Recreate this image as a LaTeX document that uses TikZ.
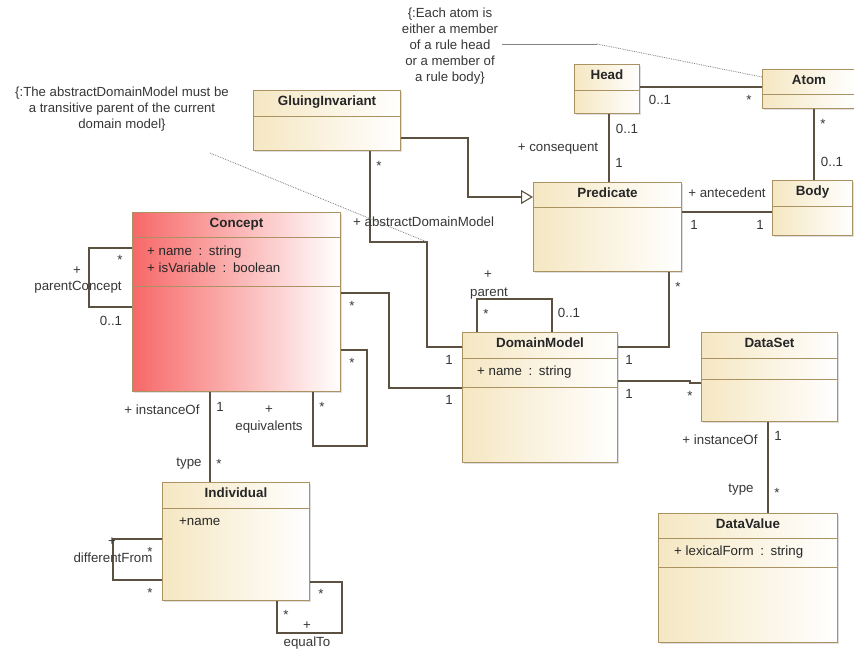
\documentclass[tikz,border=0pt]{standalone}
\usepackage{fontspec}
\setmainfont{Liberation Sans}
\usepackage{tikz}
\usetikzlibrary{positioning,arrows.meta,shadows}
\usepackage{xcolor}
\definecolor{clsfill}{RGB}{245,231,194}
\definecolor{clsred}{RGB}{247,104,104}
\definecolor{clsline}{RGB}{170,146,98}
\definecolor{assocline}{RGB}{92,80,64}
\definecolor{lblcol}{RGB}{55,55,55}
\definecolor{notecol}{RGB}{130,130,130}

\begin{document}
\begin{tikzpicture}[
    x = 1pt, y = -1pt,
    cls/.style={draw=clsline, line width=1pt, left color=clsfill, right color=white,
        anchor=north west, inner sep=0pt,
        drop shadow={shadow xshift=1.5pt, shadow yshift=-1.5pt, opacity=0.25}},
    ttl/.style={font=\fontsize{13.4}{15}\selectfont\bfseries, text=black!85, inner sep=0pt,
        text height=9.5pt, text depth=2.5pt},
    lbl/.style={font=\fontsize{13.3}{15}\selectfont, text=lblcol, inner sep=0pt,
        text height=9.5pt, text depth=2.5pt},
    mstar/.style={lbl, yshift=-3pt},
    attr/.style={lbl, anchor=west, text=black!85},
    note/.style={font=\fontsize{13.2}{15.8}\selectfont, text=lblcol, align=center, inner sep=0pt},
    assoc/.style={draw=assocline, line width=1.1pt},
    gen/.style={assoc, -{Triangle[open, length=12pt, width=14pt, fill=white]}},
    divline/.style={draw=clsline, line width=0.9pt},
    notelink/.style={draw=notecol, line width=0.8pt}
]
    \fill[white] (0,0) rectangle (854,648);
    \useasboundingbox (0,0) rectangle (854,648);

    % notes
    \node[note] (note1) at (122,109) {\{:The abstractDomainModel must be\\a transitive parent of the current\\domain model\}};
    \node[note] (note2) at (450,46) {\{:Each atom is\\either a member\\of a rule head\\or a member of\\a rule body\}};
    \coordinate (n1a) at (210,153);
    \coordinate (n2a) at (502,44);
    \coordinate (n2b) at (597,44);
    \coordinate (admBend) at (427,242);

    % classes
    \node[cls, minimum width=147pt, minimum height=60pt] (gi) at (253,90) {};
    \node[cls, left color=clsred, minimum width=208pt, minimum height=179pt] (con) at (132,212) {};
    \node[cls, minimum width=65pt, minimum height=49pt] (head) at (574,64) {};
    \node[cls, minimum width=93pt, minimum height=39pt] (atom) at (762,69) {};
    \node[cls, minimum width=148pt, minimum height=89pt] (pred) at (533,182) {};
    \node[cls, minimum width=80pt, minimum height=55pt] (body) at (772,180) {};
    \node[cls, minimum width=155pt, minimum height=130pt] (dm) at (462,332) {};
    \node[cls, minimum width=136pt, minimum height=89pt] (ds) at (701,332) {};
    \node[cls, minimum width=179pt, minimum height=129pt] (dv) at (658,513) {};
    \node[cls, minimum width=147pt, minimum height=118pt] (ind) at (162,482) {};

    \draw[divline] ([yshift=-26pt]gi.north west) -- ([yshift=-26pt]gi.north east);
    \draw[divline] ([yshift=-25pt]con.north west) -- ([yshift=-25pt]con.north east);
    \draw[divline] ([yshift=-74pt]con.north west) -- ([yshift=-74pt]con.north east);
    \draw[divline] ([yshift=-26pt]head.north west) -- ([yshift=-26pt]head.north east);
    \draw[divline] ([yshift=-25pt]atom.north west) -- ([yshift=-25pt]atom.north east);
    \draw[divline] ([yshift=-25pt]pred.north west) -- ([yshift=-25pt]pred.north east);
    \draw[divline] ([yshift=-26pt]body.north west) -- ([yshift=-26pt]body.north east);
    \draw[divline] ([yshift=-26pt]dm.north west) -- ([yshift=-26pt]dm.north east);
    \draw[divline] ([yshift=-55pt]dm.north west) -- ([yshift=-55pt]dm.north east);
    \draw[divline] ([yshift=-26pt]ds.north west) -- ([yshift=-26pt]ds.north east);
    \draw[divline] ([yshift=-47pt]ds.north west) -- ([yshift=-47pt]ds.north east);
    \draw[divline] ([yshift=-25pt]dv.north west) -- ([yshift=-25pt]dv.north east);
    \draw[divline] ([yshift=-54pt]dv.north west) -- ([yshift=-54pt]dv.north east);
    \draw[divline] ([yshift=-26pt]ind.north west) -- ([yshift=-26pt]ind.north east);

    \node[ttl] (giT) at ([yshift=-12pt]gi.north) {GluingInvariant};
    \node[ttl] (conT) at ([yshift=-12pt]con.north) {Concept};
    \node[ttl] (headT) at ([yshift=-12pt]head.north) {Head};
    \node[ttl] (atomT) at ([yshift=-12pt]atom.north) {Atom};
    \node[ttl] (predT) at ([yshift=-12pt]pred.north) {Predicate};
    \node[ttl] (bodyT) at ([yshift=-12pt]body.north) {Body};
    \node[ttl] (dmT) at ([yshift=-12pt]dm.north) {DomainModel};
    \node[ttl] (dsT) at ([yshift=-12pt]ds.north) {DataSet};
    \node[ttl] (dvT) at ([yshift=-12pt]dv.north) {DataValue};
    \node[ttl] (indT) at ([yshift=-12pt]ind.north) {Individual};

    \node[attr] (conA1) at (147,252) {+ name\hspace{0.5em}:\hspace{0.5em}string};
    \node[attr] (conA2) at (147,269) {+ isVariable\hspace{0.5em}:\hspace{0.5em}boolean};
    \node[attr] (dmA) at (477,372) {+ name\hspace{0.5em}:\hspace{0.5em}string};
    \node[attr] (dvA) at (674,552) {+ lexicalForm\hspace{0.5em}:\hspace{0.5em}string};
    \node[attr] (indA) at (179,522) {+name};

    % connectors
    \draw[gen] (gi.east |- 0,138) -| (468,197) -- (pred.west |- 0,197);
    \draw[assoc] (head.east |- 0,87) -- (atom.west |- 0,87);
    \draw[assoc] (head.south -| 609,0) -- (pred.north -| 609,0);
    \draw[assoc] (atom.south -| 814,0) -- (body.north -| 814,0);
    \draw[assoc] (pred.east |- 0,212) -- (body.west |- 0,212);
    \draw[assoc] (pred.south -| 669,0) |- (dm.east |- 0,347);
    \draw[assoc] (gi.south -| 370,0) |- (admBend) |- (dm.west |- 0,347);
    \draw[assoc] (con.east |- 0,293) -| (389,388) -- (dm.west |- 0,388);
    \draw[assoc] (con.east |- 0,350) -| (367,446) -| (con.south -| 313,0);
    \draw[assoc] (con.west |- 0,248) -| (89,307) -- (con.west |- 0,307);
    \draw[assoc] (con.south -| 210,0) -- (ind.north -| 210,0);
    \draw[assoc] (ind.west |- 0,539) -| (113,580) -- (ind.west |- 0,580);
    \draw[assoc] (ind.east |- 0,582) -| (342,633) -| (ind.south -| 277,0);
    \draw[assoc] (dm.north -| 477,0) |- (552,299) -- (dm.north -| 552,0);
    \draw[assoc] (dm.east |- 0,381) -- (690,381) -- (690,383) -- (ds.west |- 0,383);
    \draw[assoc] (ds.south -| 768,0) -- (dv.north -| 768,0);

    \draw[notelink, densely dotted] (n1a) -- (admBend);
    \draw[notelink] (n2a) -- (n2b);
    \draw[notelink, densely dotted] (n2b) -- ([yshift=-8pt]atom.north west);

    % role names and multiplicities
    \node[mstar] (l1) at (379,164) {*};
    \node[lbl, anchor=west] (l2) at (353,223) {+ abstractDomainModel};
    \node[lbl] (l3) at (77,271) {+};
    \node[lbl] (l4) at (78,287) {parentConcept};
    \node[mstar] (l5) at (120,258) {*};
    \node[lbl] (l6) at (111,322) {0..1};
    \node[mstar] (l7) at (352,304) {*};
    \node[lbl] (l8) at (660,101) {0..1};
    \node[mstar] (l9) at (749,98) {*};
    \node[lbl] (l10) at (627,130) {0..1};
    \node[lbl] (l11) at (558,148) {+ consequent};
    \node[lbl] (l12) at (619,164) {1};
    \node[mstar] (l13) at (823,122) {*};
    \node[lbl] (l14) at (832,163) {0..1};
    \node[lbl] (l15) at (727,194) {+ antecedent};
    \node[lbl] (l16) at (694,226) {1};
    \node[lbl] (l17) at (760,226) {1};
    \node[mstar] (l18) at (678,285) {*};
    \node[lbl] (l19) at (488,275) {+};
    \node[lbl] (l20) at (489,293) {parent};
    \node[mstar] (l21) at (486,312) {*};
    \node[lbl] (l22) at (569,314) {0..1};
    \node[lbl] (l23) at (449,361) {1};
    \node[lbl] (l24) at (449,401) {1};
    \node[lbl] (l25) at (629,361) {1};
    \node[lbl] (l26) at (629,395) {1};
    \node[mstar] (l27) at (690,394) {*};
    \node[lbl] (l28) at (720,441) {+ instanceOf};
    \node[lbl] (l29) at (778,437) {1};
    \node[lbl] (l30) at (741,489) {type};
    \node[mstar] (l31) at (777,491) {*};
    \node[lbl] (l32) at (162,411) {+ instanceOf};
    \node[lbl] (l33) at (220,408) {1};
    \node[lbl] (l34) at (269,410) {+};
    \node[lbl] (l35) at (269,427) {equivalents};
    \node[mstar] (l36) at (322,405) {*};
    \node[mstar] (l37) at (352,361) {*};
    \node[lbl] (l38) at (189,463) {type};
    \node[mstar] (l39) at (219,462) {*};
    \node[lbl] (l40) at (112,542) {+};
    \node[mstar] (l41) at (150,550) {*};
    \node[lbl] (l42) at (113,559) {differentFrom};
    \node[mstar] (l43) at (150,591) {*};
    \node[mstar] (l44) at (321,592) {*};
    \node[mstar] (l45) at (286,613) {*};
    \node[lbl] (l46) at (307,626) {+};
    \node[lbl] (l47) at (307,643) {equalTo};
\end{tikzpicture}
\end{document}
